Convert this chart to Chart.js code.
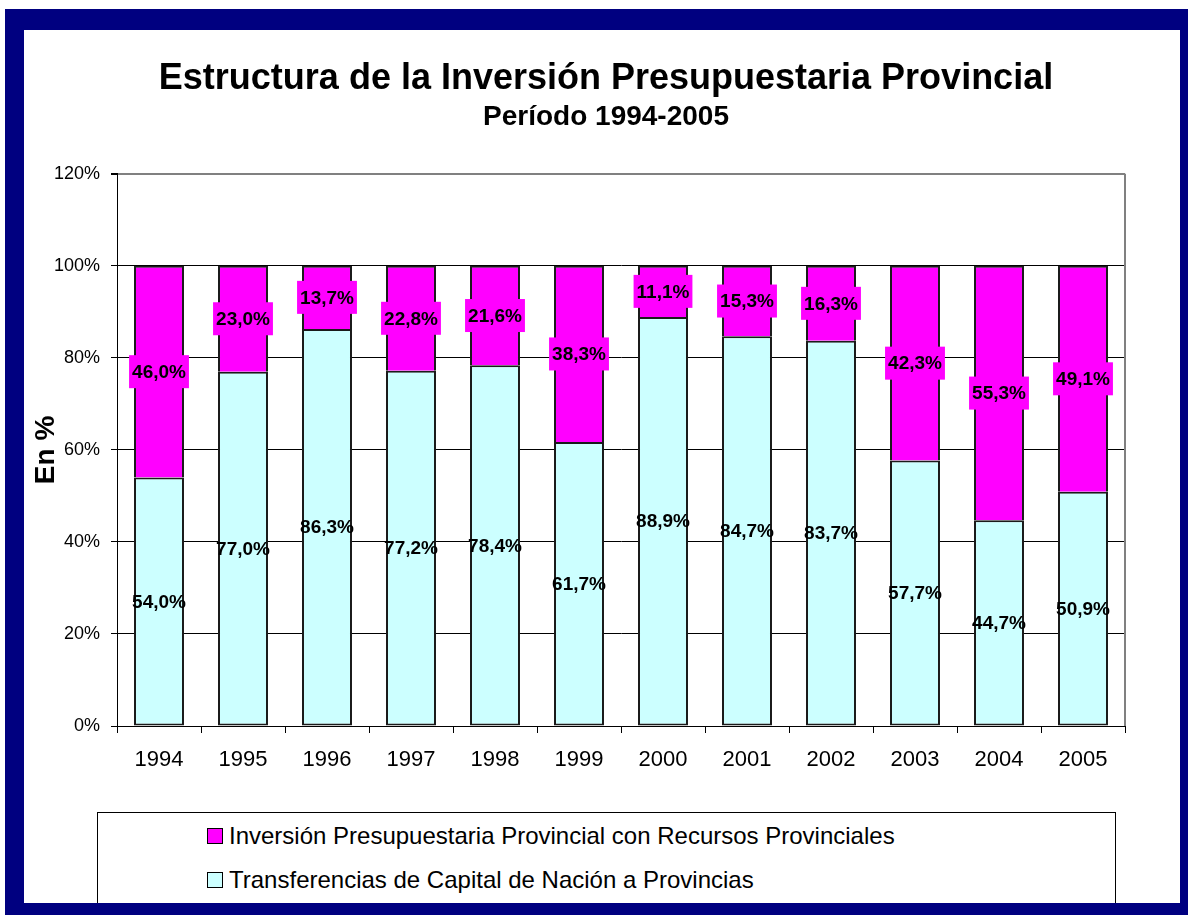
<!DOCTYPE html>
<html>
<head>
<meta charset="utf-8">
<script src="https://cdn.jsdelivr.net/npm/chart.js@4"></script>
<style>
  body { margin: 0; background: #ffffff; font-family: "Liberation Sans", Arial, sans-serif; }
  #frame {
    position: absolute; left: 5px; top: 9px; width: 1195px; height: 915px;
    box-sizing: border-box; border-style: solid; border-color: #000080;
    border-width: 21px 20px 21px 19px; z-index: 5; pointer-events: none;
  }
  #chart { position: absolute; left: 24px; top: 30px; }
  #legend {
    position: absolute; left: 97px; top: 812px; width: 1019px; height: 110px;
    box-sizing: border-box; border: 1px solid #000; padding-top: 1px; background: #fff;
  }
  .item { height: 44px; display: flex; align-items: center; padding-left: 109px; font-size: 24px; color: #000; }
  .swatch { width: 14px; height: 14px; border: 1px solid #000; margin-right: 6px; }
</style>
</head>
<body>
<div id="frame"></div>
<canvas id="chart" width="1164" height="780"></canvas>
<div id="legend"></div>
<script>
// Datos
const years = ["1994", "1995", "1996", "1997", "1998", "1999", "2000", "2001", "2002", "2003", "2004", "2005"];
const transferencias = [54.0, 77.0, 86.3, 77.2, 78.4, 61.7, 88.9, 84.7, 83.7, 57.7, 44.7, 50.9];
const recursosProv = [46.0, 23.0, 13.7, 22.8, 21.6, 38.3, 11.1, 15.3, 16.3, 42.3, 55.3, 49.1];
const yTicks = [0, 20, 40, 60, 80, 100, 120];

const CYAN = "#ccffff";
const MAGENTA = "#ff00ff";

Chart.defaults.font.family = '"Liberation Sans", Arial, sans-serif';
Chart.defaults.color = "#000";

function fmt(v) {
  return v.toFixed(1).replace(".", ",") + "%";
}

// Etiquetas de valor dentro de las barras
const valueLabels = {
  id: "valueLabels",
  afterDatasetsDraw(chart) {
    const ctx = chart.ctx;
    ctx.save();
    ctx.font = 'bold 19px "Liberation Sans", Arial, sans-serif';
    ctx.textAlign = "center";
    ctx.textBaseline = "middle";
    chart.data.datasets.forEach((ds, i) => {
      const meta = chart.getDatasetMeta(i);
      meta.data.forEach((bar, j) => {
        const txt = fmt(ds.data[j]);
        const y = (bar.y + bar.base) / 2;
        if (ds.labelBox) {
          const w = ctx.measureText(txt).width + 6;
          ctx.fillStyle = ds.backgroundColor;
          ctx.fillRect(bar.x - w / 2, y - 16.5, w, 33);
        }
        ctx.fillStyle = "#000";
        ctx.fillText(txt, bar.x, y + 1);
      });
    });
    ctx.restore();
  },
};

// Borde gris derecho del área de trazado
const plotFrame = {
  id: "plotFrame",
  beforeDatasetsDraw(chart) {
    const { ctx, chartArea: a } = chart;
    ctx.save();
    ctx.strokeStyle = "#808080";
    ctx.lineWidth = 2;
    ctx.beginPath();
    ctx.moveTo(a.right, a.top);
    ctx.lineTo(a.right, a.bottom);
    ctx.stroke();
    ctx.restore();
  },
};

const chart = new Chart(document.getElementById("chart"), {
  type: "bar",
  data: {
    labels: years,
    datasets: [
      {
        label: "Transferencias de Capital de Nación a Provincias",
        data: transferencias,
        backgroundColor: CYAN,
        borderColor: "#1a1a1a",
        borderWidth: 2,
        borderSkipped: false,
        labelBox: false,
      },
      {
        label: "Inversión Presupuestaria Provincial con Recursos Provinciales",
        data: recursosProv,
        backgroundColor: MAGENTA,
        borderColor: "#1a1a1a",
        borderWidth: { top: 2, left: 2, right: 2, bottom: 0 },
        borderSkipped: false,
        labelBox: true,
      },
    ],
  },
  options: {
    responsive: false,
    animation: false,
    barPercentage: 0.595,
    categoryPercentage: 1,
    layout: { padding: 0 },
    plugins: {
      legend: { display: false },
      tooltip: { enabled: false },
      title: {
        display: true,
        text: "Estructura de la Inversión Presupuestaria Provincial",
        font: { size: 36, weight: "bold" },
        padding: { top: 27, bottom: 0 },
      },
      subtitle: {
        display: true,
        text: "Período 1994-2005",
        color: "#000",
        font: { size: 28, weight: "bold" },
        padding: { top: 0, bottom: 40 },
      },
    },
    scales: {
      x: {
        stacked: true,
        grid: { display: true, drawOnChartArea: false, offset: true, tickLength: 7, color: "#000" },
        border: { color: "#000", width: 1 },
        ticks: { font: { size: 22 }, padding: 14, maxRotation: 0 },
        afterFit(scale) { scale.height = 84; },
      },
      y: {
        stacked: true,
        min: 0,
        max: 120,
        afterBuildTicks(scale) { scale.ticks = yTicks.map((v) => ({ value: v })); },
        grid: {
          color: (c) => (c.tick && c.tick.value === 120 ? "#808080" : "#000"),
          lineWidth: (c) => (c.tick && c.tick.value === 120 ? 2 : 1),
          tickColor: "#000",
          tickLength: 6,
        },
        border: { color: "#000", width: 1 },
        ticks: { font: { size: 18 }, padding: 11, callback: (v) => v + "%" },
        title: {
          display: true,
          text: "En %",
          font: { size: 28, weight: "bold" },
          padding: { top: 5, bottom: 0 },
        },
        afterFit(scale) { scale.width = 93; },
      },
      // eje vacío a la derecha para dejar el margen del área de trazado
      yRight: {
        position: "right",
        min: 0,
        max: 120,
        grid: { display: false },
        border: { display: false },
        ticks: { display: false },
        afterFit(scale) { scale.width = 63; },
      },
    },
  },
  plugins: [plotFrame, valueLabels],
});

// Leyenda (orden invertido como en el original)
const legendEl = document.getElementById("legend");
chart.data.datasets.slice().reverse().forEach((ds) => {
  const row = document.createElement("div");
  row.className = "item";
  const sw = document.createElement("span");
  sw.className = "swatch";
  sw.style.background = ds.backgroundColor;
  row.appendChild(sw);
  row.appendChild(document.createTextNode(ds.label));
  legendEl.appendChild(row);
});
</script>
</body>
</html>
